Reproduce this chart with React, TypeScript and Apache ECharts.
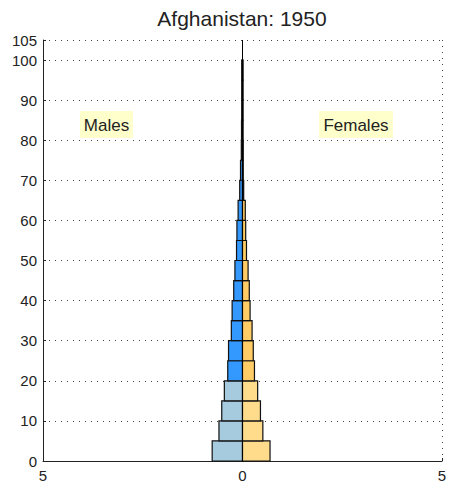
import React, { useEffect, useRef } from "react";
import * as echarts from "echarts";

const titleText = "Afghanistan: 1950";
const ageStarts = [0, 5, 10, 15, 20, 25, 30, 35, 40, 45, 50, 55, 60, 65, 70, 75, 80, 85, 90, 95];
const males = [0.76, 0.59, 0.52, 0.455, 0.37, 0.35, 0.28, 0.26, 0.22, 0.19, 0.15, 0.14, 0.11, 0.07, 0.05, 0.03, 0.025, 0.02, 0.02, 0.02];
const females = [0.69, 0.51, 0.45, 0.38, 0.3, 0.27, 0.24, 0.19, 0.17, 0.14, 0.1, 0.08, 0.07, 0.03, 0.02, 0.02, 0.015, 0.015, 0.015, 0.015];
const xTicks = [-5, 0, 5];
const youngAgeLimit = 20;

const maleYoung = "#A6CBDF";
const maleOld = "#3399FF";
const femaleYoung = "#FFDC8C";
const femaleOld = "#FFCC66";
const FONT = "Liberation Sans, Arial, sans-serif";

export default function App() {
  const ref = useRef<HTMLDivElement>(null);
  useEffect(() => {
    if (!ref.current) return;
    const chart = echarts.init(ref.current, null, { renderer: "svg" });
    const data: any[] = [];
    ageStarts.forEach((a, i) => {
      data.push([-males[i], a, a + 5, 0]);
      data.push([females[i], a, a + 5, 1]);
    });
    const renderItem = (params: any, api: any) => {
      const v = api.value(0);
      const a0 = api.value(1);
      const a1 = api.value(2);
      const sex = api.value(3);
      const p0 = api.coord([0, a0]);
      const p1 = api.coord([v, a1]);
      const young = a0 < youngAgeLimit;
      const fill = sex === 0 ? (young ? maleYoung : maleOld) : young ? femaleYoung : femaleOld;
      return {
        type: "rect",
        shape: {
          x: Math.min(p0[0], p1[0]),
          y: Math.min(p0[1], p1[1]),
          width: Math.abs(p1[0] - p0[0]),
          height: Math.abs(p1[1] - p0[1]),
        },
        style: { fill, stroke: "#111", lineWidth: 1.2 },
      };
    };
    const labelFont = { fontFamily: FONT, fontSize: 15, color: "#222" };
    chart.setOption({
      animation: false,
      grid: { left: 43, right: 10, top: 40, bottom: 29, containLabel: false },
      graphic: [
        {
          type: "text",
          x: 242,
          y: 18,
          style: {
            text: titleText,
            fontFamily: FONT,
            fontSize: 21,
            fill: "#222",
            align: "center",
            verticalAlign: "middle",
          },
        },
        {
          type: "rect",
          shape: { x: 80, y: 111, width: 53, height: 27 },
          style: { fill: "#FFFFCC" },
        },
        {
          type: "text",
          x: 106.5,
          y: 125,
          style: {
            text: "Males",
            fontFamily: FONT,
            fontSize: 17,
            fill: "#222",
            align: "center",
            verticalAlign: "middle",
          },
        },
        {
          type: "rect",
          shape: { x: 319, y: 111, width: 74, height: 27 },
          style: { fill: "#FFFFCC" },
        },
        {
          type: "text",
          x: 356,
          y: 125,
          style: {
            text: "Females",
            fontFamily: FONT,
            fontSize: 17,
            fill: "#222",
            align: "center",
            verticalAlign: "middle",
          },
        },
      ],
      xAxis: {
        type: "value",
        min: -5,
        max: 5,
        interval: 5,
        axisLine: { show: true, onZero: false, lineStyle: { color: "#222", width: 1 } },
        axisTick: { show: true, inside: true, length: 3, lineStyle: { color: "#222" } },
        axisLabel: {
          ...labelFont,
          margin: 7,
          formatter: (v: number) => (xTicks.includes(v) ? String(Math.abs(v)) : ""),
        },
        splitLine: { show: true, lineStyle: { color: "#444", type: [1, 5], width: 1 } },
      },
      yAxis: {
        type: "value",
        min: 0,
        max: 105,
        interval: 10,
        axisLine: { show: true, onZero: false, lineStyle: { color: "#222", width: 1 } },
        axisTick: { show: true, inside: true, length: 3, lineStyle: { color: "#222" } },
        axisLabel: { ...labelFont, margin: 6, showMaxLabel: true },
        splitLine: { show: true, lineStyle: { color: "#444", type: [1, 5], width: 1 } },
      },
      series: [
        {
          type: "custom",
          renderItem,
          data,
          encode: { x: 0, y: [1, 2] },
          z: 3,
          markLine: {
            silent: true,
            symbol: "none",
            label: { show: false },
            lineStyle: { color: "#000", width: 1, type: "solid" },
            data: [{ xAxis: 0 }],
          },
        },
      ],
    });
    return () => chart.dispose();
  }, []);
  return <div ref={ref} style={{ width: 452, height: 490, position: "absolute", left: 0, top: 0 }} />;
}
